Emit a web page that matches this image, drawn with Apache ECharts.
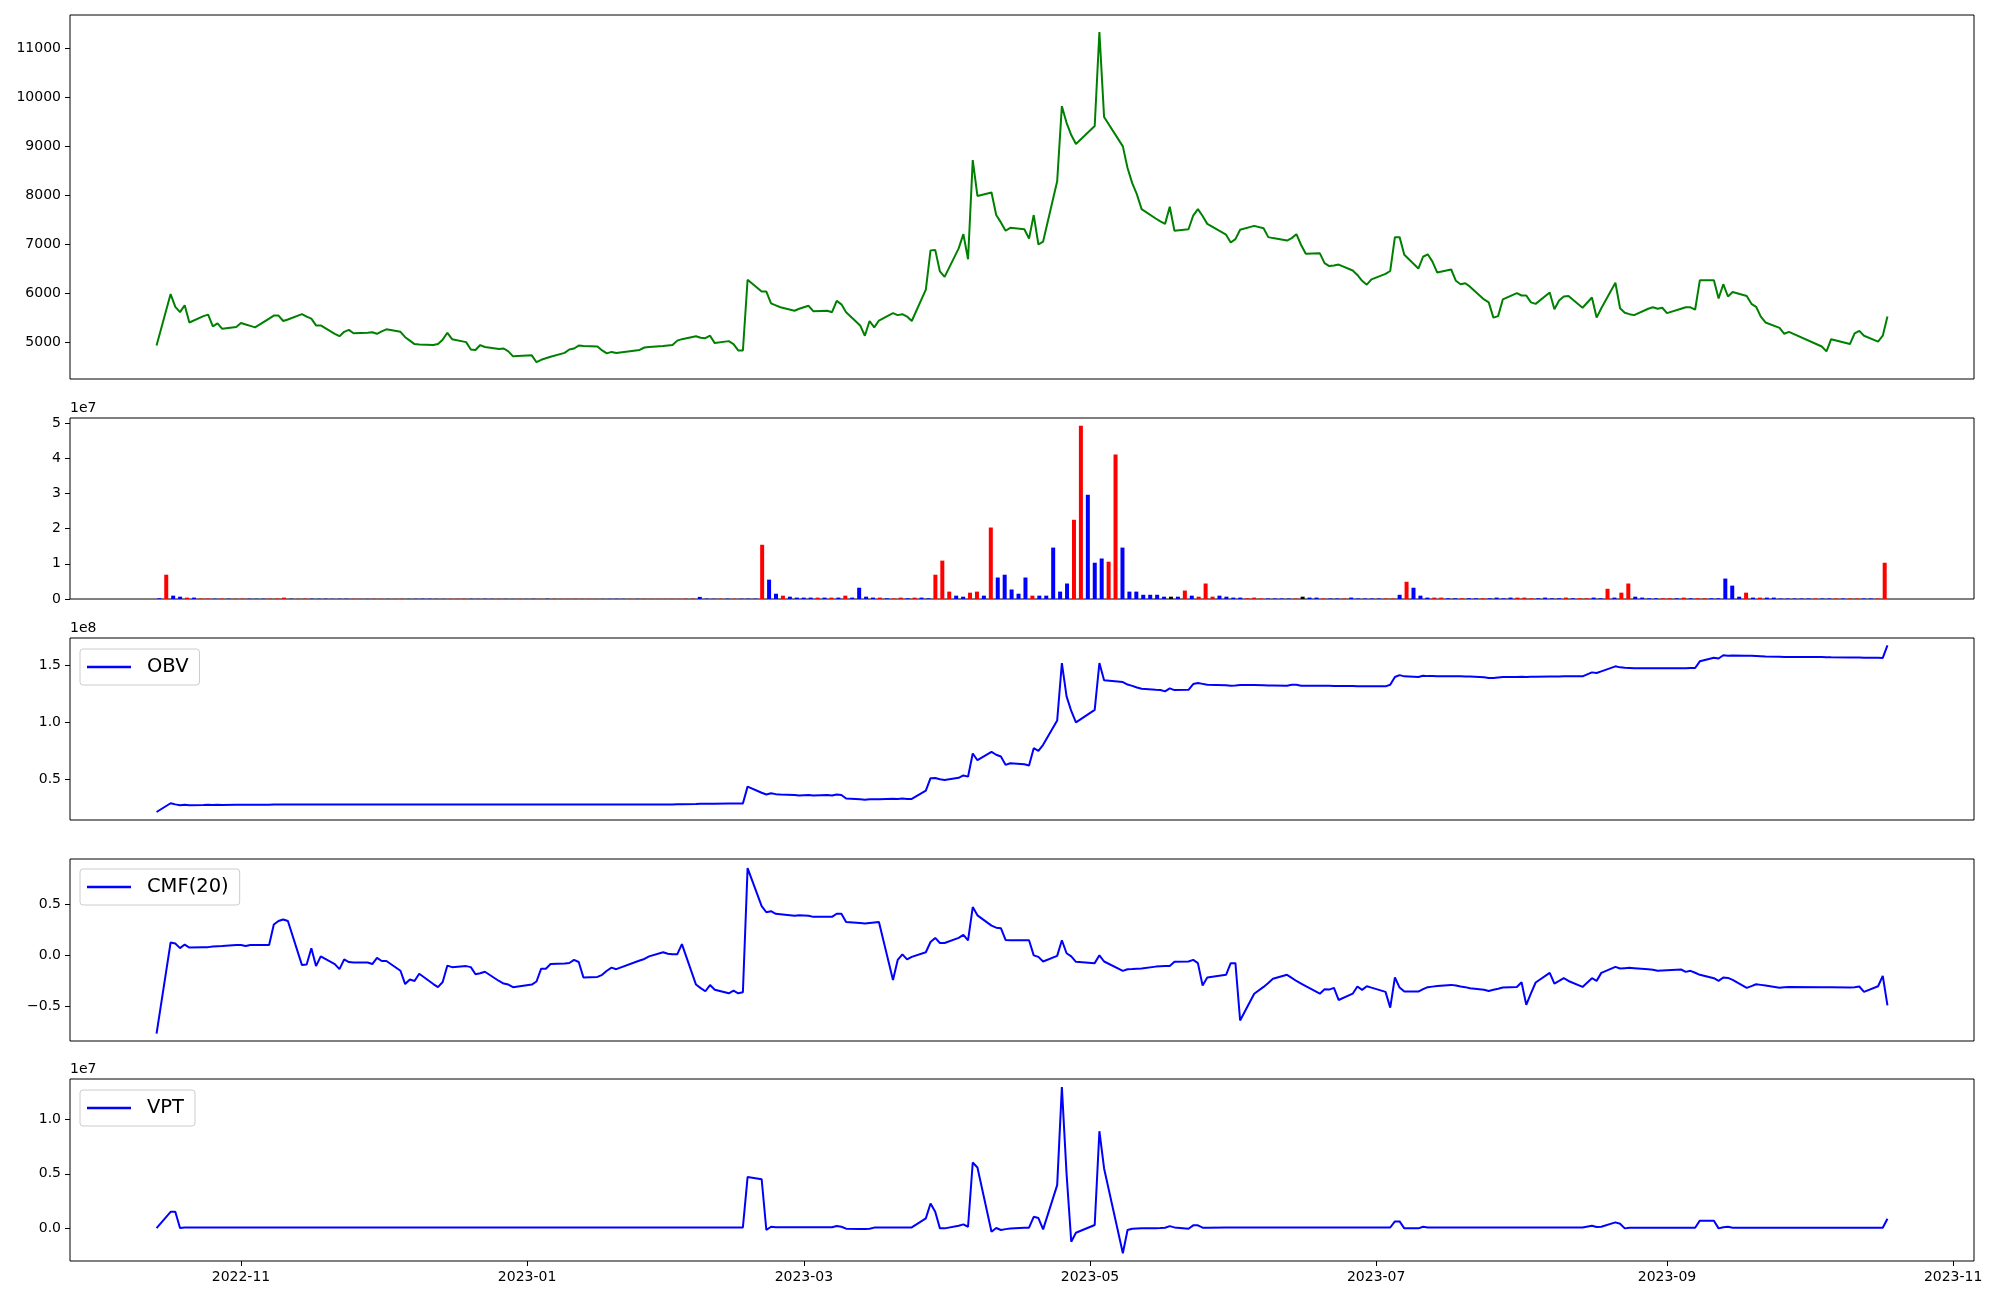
<!DOCTYPE html>
<html>
<head>
<meta charset="utf-8">
<script src="https://cdn.jsdelivr.net/npm/echarts@6/dist/echarts.min.js"></script>
<style>
html,body{margin:0;padding:0;background:#fff;}
#chart{width:2000px;height:1300px;}
</style>
</head>
<body>
<div id="chart"></div>
<script>
// ---------------- DATA ----------------
const dates = [
"2022-10-14","2022-10-17","2022-10-18","2022-10-19","2022-10-20","2022-10-21","2022-10-24","2022-10-25","2022-10-26","2022-10-27","2022-10-28","2022-10-31",
"2022-11-01","2022-11-02","2022-11-03","2022-11-04","2022-11-07","2022-11-08","2022-11-09","2022-11-10","2022-11-11","2022-11-14","2022-11-15","2022-11-16","2022-11-17","2022-11-18","2022-11-21","2022-11-22","2022-11-23","2022-11-24","2022-11-25","2022-11-28","2022-11-29","2022-11-30",
"2022-12-01","2022-12-02","2022-12-05","2022-12-06","2022-12-07","2022-12-08","2022-12-09","2022-12-12","2022-12-13","2022-12-14","2022-12-15","2022-12-16","2022-12-19","2022-12-20","2022-12-21","2022-12-22","2022-12-23","2022-12-26","2022-12-27","2022-12-28","2022-12-29",
"2023-01-02","2023-01-03","2023-01-04","2023-01-05","2023-01-06","2023-01-09","2023-01-10","2023-01-11","2023-01-12","2023-01-13","2023-01-16","2023-01-17","2023-01-18","2023-01-19","2023-01-20","2023-01-25","2023-01-26","2023-01-27","2023-01-30","2023-01-31",
"2023-02-01","2023-02-02","2023-02-03","2023-02-06","2023-02-07","2023-02-08","2023-02-09","2023-02-10","2023-02-13","2023-02-14","2023-02-15","2023-02-16","2023-02-17","2023-02-20","2023-02-21","2023-02-22","2023-02-23","2023-02-24","2023-02-27","2023-02-28",
"2023-03-02","2023-03-03","2023-03-06","2023-03-07","2023-03-08","2023-03-09","2023-03-10","2023-03-13","2023-03-14","2023-03-15","2023-03-16","2023-03-17","2023-03-20","2023-03-21","2023-03-22","2023-03-23","2023-03-24","2023-03-27","2023-03-28","2023-03-29","2023-03-30","2023-03-31",
"2023-04-03","2023-04-04","2023-04-05","2023-04-06","2023-04-07","2023-04-10","2023-04-11","2023-04-12","2023-04-13","2023-04-14","2023-04-17","2023-04-18","2023-04-19","2023-04-20","2023-04-21","2023-04-24","2023-04-25","2023-04-26","2023-04-27","2023-04-28",
"2023-05-02","2023-05-03","2023-05-04","2023-05-08","2023-05-09","2023-05-10","2023-05-11","2023-05-12","2023-05-15","2023-05-16","2023-05-17","2023-05-18","2023-05-19","2023-05-22","2023-05-23","2023-05-24","2023-05-25","2023-05-26","2023-05-30","2023-05-31",
"2023-06-01","2023-06-02","2023-06-05","2023-06-07","2023-06-08","2023-06-09","2023-06-12","2023-06-13","2023-06-14","2023-06-15","2023-06-16","2023-06-19","2023-06-20","2023-06-21","2023-06-22","2023-06-23","2023-06-26","2023-06-27","2023-06-28","2023-06-29","2023-06-30",
"2023-07-03","2023-07-04","2023-07-05","2023-07-06","2023-07-07","2023-07-10","2023-07-11","2023-07-12","2023-07-13","2023-07-14","2023-07-17","2023-07-18","2023-07-19","2023-07-20","2023-07-21","2023-07-24","2023-07-25","2023-07-26","2023-07-27","2023-07-28","2023-07-31",
"2023-08-01","2023-08-02","2023-08-03","2023-08-04","2023-08-07","2023-08-08","2023-08-09","2023-08-10","2023-08-11","2023-08-14","2023-08-16","2023-08-17","2023-08-18","2023-08-21","2023-08-22","2023-08-23","2023-08-24","2023-08-25","2023-08-28","2023-08-29","2023-08-30","2023-08-31",
"2023-09-01","2023-09-04","2023-09-05","2023-09-06","2023-09-07","2023-09-08","2023-09-11","2023-09-12","2023-09-13","2023-09-14","2023-09-15","2023-09-18","2023-09-19","2023-09-20","2023-09-21","2023-09-22","2023-09-25","2023-09-26","2023-09-27",
"2023-10-04","2023-10-05","2023-10-06","2023-10-10","2023-10-11","2023-10-12","2023-10-13","2023-10-16","2023-10-17","2023-10-18"
];

const price = [
4940,5990,5730,5620,5760,5410,5540,5570,5330,5390,
5280,5320,5400,5370,5340,5310,5490,5550,5550,5440,
5470,5580,5530,5490,5350,5350,5180,5130,5220,5260,
5190,5200,5210,5180,5230,5270,5220,5110,5040,4970,
4960,4950,4970,5060,5200,5070,5010,4860,4850,4950,
4910,4870,4880,4820,4720,4740,4600,4650,4680,4710,
4790,4860,4880,4940,4930,4920,4840,4780,4810,4790,
4850,4900,4910,4930,4940,4950,5040,5070,5130,5100,
5090,5140,4990,5030,4970,4840,4840,6280,6040,6040,
5800,5760,5720,5650,5690,5750,5640,5650,5620,5850,
5780,5620,5350,5140,5440,5310,5450,5600,5560,5580,
5530,5440,6080,6880,6890,6450,6340,6920,7210,6700,
8720,7990,8060,7600,7450,7280,7340,7310,7120,7600,
7000,7060,8290,9820,9480,9230,9050,9415,11330,9600,
9000,8560,8250,8020,7720,7530,7470,7420,7770,7280,
7310,7590,7720,7580,7420,7200,7040,7110,7300,7380,
7330,7150,7130,7080,7130,7210,6990,6810,6820,6620,
6560,6570,6590,6470,6380,6260,6180,6290,6400,6460,
7150,7150,6790,6510,6750,6800,6650,6430,6490,6260,
6190,6210,6140,5880,5820,5510,5540,5880,6010,5960,
5960,5820,5790,6020,5680,5860,5940,5950,5710,5920,
5510,5700,6220,5700,5610,5580,5560,5690,5720,5690,
5710,5600,5690,5720,5720,5670,6270,6270,5900,6190,
5940,6030,5950,5790,5730,5530,5410,5300,5180,5220,
4920,4820,5070,4970,5190,5240,5140,5020,5140,5530
];

// volume, in units of 1e7
const volumeE7 = [
0.02,0.69,0.095,0.066,0.04,0.04,0.015,0.012,0.01,0.012,
0.01,0.01,0.012,0.01,0.008,0.01,0.012,0.015,0.04,0.01,
0.008,0.012,0.01,0.008,0.01,0.006,0.008,0.01,0.008,0.006,
0.006,0.008,0.006,0.005,0.006,0.008,0.006,0.008,0.01,0.008,
0.006,0.005,0.006,0.008,0.01,0.008,0.006,0.008,0.006,0.008,
0.006,0.005,0.006,0.005,0.008,0.006,0.01,0.008,0.006,0.006,
0.008,0.006,0.005,0.006,0.005,0.006,0.008,0.006,0.005,0.006,
0.008,0.006,0.005,0.006,0.008,0.006,0.01,0.012,0.06,0.012,
0.008,0.01,0.012,0.008,0.01,0.012,0.01,1.54,0.55,0.15,
0.095,0.066,0.04,0.04,0.04,0.04,0.04,0.04,0.04,0.095,
0.04,0.32,0.066,0.04,0.04,0.02,0.015,0.04,0.02,0.04,
0.04,0.02,0.69,1.09,0.21,0.095,0.066,0.18,0.21,0.095,
2.03,0.61,0.69,0.27,0.15,0.61,0.095,0.095,0.095,1.46,
0.21,0.44,2.25,4.92,2.96,1.03,1.15,1.06,4.10,1.46,
0.21,0.21,0.12,0.12,0.12,0.066,0.066,0.066,0.24,0.095,
0.066,0.44,0.066,0.095,0.066,0.04,0.04,0.02,0.04,0.015,
0.015,0.015,0.015,0.015,0.015,0.066,0.04,0.04,0.015,0.015,
0.015,0.015,0.04,0.015,0.015,0.015,0.015,0.015,0.015,0.12,
0.49,0.32,0.095,0.04,0.04,0.04,0.02,0.02,0.02,0.02,
0.02,0.02,0.02,0.04,0.02,0.04,0.04,0.04,0.02,0.02,
0.04,0.02,0.02,0.04,0.02,0.02,0.02,0.04,0.02,0.29,
0.04,0.18,0.44,0.066,0.04,0.02,0.02,0.02,0.02,0.02,
0.04,0.02,0.02,0.02,0.02,0.02,0.58,0.38,0.066,0.18,
0.04,0.04,0.04,0.04,0.015,0.015,0.015,0.015,0.015,0.015,
0.015,0.015,0.015,0.015,0.015,0.015,0.015,0.015,0.015,1.03
];

// bar colour per day: r = red, b = blue, k = black
const volumeColorCodes = (
"brbbrbrrbr" + "brrbbbrrrb" + "rrbbbbbbrr" + "brrbrrbbbb" + "bbrrrbbbbr" +
"bbrbbrbrrr" + "rrrrbbbbrb" + "rrrrrrrrbb" + "brbrbbbrbb" + "rbbbbrbrbr" +
"bbbbrbrrbr" + "bbrrrbbrrb" + "rbbbbbrbbb" + "bbrrbbbrrb" + "bbbbbbkbrb" +
"rrrbbbbrrr" + "bbbbrkbbrb" + "brbbbbbrrb" + "rbbbrrbbrb" + "brbbbbrrrb" +
"bbbrbrrbbr" + "brrbbbbrrb" + "rbrrbbbbbr" + "brbbbbbbbr" + "bbrbrrbbrr"
).split("");

// OBV, in units of 1e8
const obvE8 = [
0.212,0.289,0.279,0.272,0.276,0.272,0.274,0.275,0.274,0.275,
0.274,0.275,0.275,0.276,0.276,0.275,0.276,0.277,0.278,0.278,
0.278,0.279,0.279,0.278,0.278,0.278,0.277,0.277,0.278,0.278,
0.278,0.278,0.278,0.278,0.278,0.278,0.278,0.277,0.277,0.277,
0.277,0.277,0.277,0.277,0.277,0.277,0.277,0.277,0.277,0.277,
0.277,0.277,0.277,0.277,0.277,0.277,0.277,0.277,0.277,0.277,
0.277,0.277,0.277,0.277,0.277,0.277,0.277,0.277,0.277,0.277,
0.277,0.278,0.278,0.278,0.279,0.279,0.280,0.281,0.283,0.284,
0.285,0.285,0.285,0.286,0.286,0.286,0.286,0.435,0.381,0.366,
0.376,0.369,0.365,0.361,0.357,0.361,0.357,0.361,0.357,0.366,
0.362,0.330,0.323,0.319,0.323,0.323,0.325,0.329,0.327,0.331,
0.327,0.327,0.400,0.509,0.510,0.500,0.494,0.512,0.533,0.523,
0.726,0.667,0.741,0.715,0.700,0.626,0.640,0.632,0.620,0.773,
0.750,0.802,1.016,1.520,1.228,1.100,0.999,1.110,1.521,1.369,
1.354,1.332,1.320,1.306,1.295,1.286,1.284,1.272,1.298,1.283,
1.286,1.336,1.345,1.338,1.330,1.326,1.322,1.324,1.327,1.327,
1.326,1.324,1.324,1.322,1.330,1.330,1.322,1.321,1.322,1.322,
1.321,1.320,1.320,1.319,1.318,1.318,1.317,1.317,1.316,1.330,
1.398,1.415,1.404,1.398,1.410,1.406,1.406,1.405,1.405,1.404,
1.404,1.403,1.402,1.396,1.390,1.389,1.394,1.398,1.398,1.400,
1.399,1.400,1.401,1.403,1.402,1.403,1.404,1.404,1.404,1.439,
1.433,1.448,1.492,1.483,1.480,1.478,1.476,1.475,1.476,1.475,
1.476,1.475,1.476,1.476,1.477,1.477,1.536,1.568,1.561,1.589,
1.586,1.588,1.586,1.584,1.582,1.580,1.578,1.576,1.575,1.574,
1.573,1.572,1.571,1.570,1.570,1.569,1.568,1.567,1.566,1.677
];

const cmf20 = [
-0.764,0.125,0.115,0.07,0.105,0.076,0.08,0.08,0.085,0.088,
0.09,0.10,0.10,0.09,0.10,0.10,0.10,0.30,0.335,0.35,
0.335,-0.095,-0.09,0.07,-0.105,-0.01,-0.085,-0.135,-0.04,-0.065,
-0.07,-0.07,-0.085,-0.025,-0.055,-0.055,-0.15,-0.28,-0.235,-0.25,
-0.18,-0.28,-0.31,-0.26,-0.10,-0.115,-0.105,-0.115,-0.185,-0.175,
-0.16,-0.25,-0.275,-0.285,-0.31,-0.285,-0.255,-0.13,-0.13,-0.085,
-0.08,-0.075,-0.045,-0.065,-0.215,-0.21,-0.19,-0.15,-0.12,-0.135,
-0.05,-0.035,-0.01,0.03,0.015,0.01,0.01,0.11,-0.285,-0.32,
-0.35,-0.29,-0.335,-0.37,-0.345,-0.37,-0.36,0.85,0.48,0.42,
0.43,0.405,0.40,0.385,0.39,0.385,0.375,0.375,0.375,0.405,
0.405,0.325,0.315,0.31,0.315,0.32,0.325,-0.24,-0.045,0.01,
-0.04,-0.015,0.03,0.13,0.17,0.12,0.12,0.17,0.2,0.145,
0.47,0.39,0.29,0.27,0.265,0.15,0.147,0.147,0.147,0.0,
-0.015,-0.06,-0.005,0.147,0.02,-0.01,-0.063,-0.076,0.0,-0.06,
-0.151,-0.135,-0.133,-0.13,-0.128,-0.11,-0.107,-0.105,-0.103,-0.063,
-0.06,-0.044,-0.076,-0.294,-0.216,-0.19,-0.076,-0.076,-0.635,-0.374,
-0.308,-0.27,-0.229,-0.19,-0.22,-0.25,-0.275,-0.30,-0.374,-0.33,
-0.334,-0.317,-0.435,-0.374,-0.304,-0.337,-0.301,-0.315,-0.356,-0.51,
-0.216,-0.314,-0.353,-0.353,-0.33,-0.31,-0.305,-0.30,-0.288,-0.295,
-0.304,-0.31,-0.32,-0.335,-0.347,-0.335,-0.325,-0.314,-0.308,-0.262,
-0.483,-0.37,-0.265,-0.171,-0.275,-0.25,-0.223,-0.25,-0.308,-0.223,
-0.249,-0.171,-0.112,-0.128,-0.125,-0.122,-0.125,-0.135,-0.14,-0.151,
-0.148,-0.145,-0.138,-0.161,-0.151,-0.17,-0.19,-0.223,-0.249,-0.216,
-0.22,-0.24,-0.317,-0.30,-0.282,-0.288,-0.295,-0.317,-0.31,-0.308,
-0.311,-0.312,-0.312,-0.314,-0.31,-0.304,-0.356,-0.301,-0.2,-0.487
];

// VPT, in units of 1e7
const vptE7 = [
0.0,0.15,0.15,0.0,0.005,0.004,0.005,0.005,0.004,0.005,
0.005,0.005,0.005,0.005,0.005,0.005,0.005,0.005,0.006,0.006,
0.006,0.006,0.006,0.006,0.006,0.006,0.006,0.006,0.006,0.006,
0.006,0.006,0.006,0.006,0.006,0.006,0.006,0.006,0.006,0.006,
0.006,0.006,0.006,0.006,0.006,0.006,0.006,0.006,0.006,0.006,
0.006,0.006,0.006,0.006,0.006,0.006,0.006,0.006,0.006,0.006,
0.006,0.006,0.006,0.006,0.006,0.006,0.006,0.006,0.006,0.006,
0.006,0.006,0.006,0.006,0.006,0.006,0.006,0.006,0.006,0.006,
0.006,0.006,0.006,0.006,0.006,0.006,0.006,0.47,0.45,-0.018,
0.012,0.008,0.008,0.008,0.008,0.008,0.008,0.008,0.008,0.018,
0.012,-0.006,-0.008,-0.008,-0.006,0.004,0.006,0.006,0.006,0.006,
0.006,0.006,0.089,0.227,0.15,-0.003,-0.003,0.021,0.034,0.012,
0.605,0.559,-0.034,0.0,-0.018,-0.01,-0.005,0.003,0.003,0.104,
0.092,-0.012,0.396,1.30,0.50,-0.126,-0.043,0.028,0.893,0.55,
-0.233,-0.018,-0.006,-0.004,-0.003,-0.002,0.0,0.003,0.018,0.006,
-0.006,0.025,0.025,0.003,0.003,0.004,0.004,0.004,0.004,0.005,
0.005,0.005,0.005,0.005,0.005,0.005,0.005,0.005,0.005,0.005,
0.005,0.005,0.005,0.005,0.005,0.005,0.005,0.005,0.005,0.005,
0.061,0.061,-0.003,-0.003,0.012,0.006,0.005,0.005,0.005,0.005,
0.005,0.005,0.005,0.005,0.005,0.005,0.005,0.005,0.005,0.005,
0.005,0.005,0.005,0.005,0.005,0.005,0.005,0.005,0.005,0.021,
0.01,0.012,0.052,0.04,-0.003,0.003,0.003,0.003,0.003,0.003,
0.003,0.003,0.003,0.003,0.003,0.003,0.068,0.068,-0.003,0.008,
0.012,0.003,0.003,0.003,0.003,0.003,0.003,0.003,0.003,0.003,
0.003,0.003,0.003,0.003,0.003,0.003,0.003,0.003,0.003,0.086
];

// tick values
const priceTicks = [5000, 6000, 7000, 8000, 9000, 10000, 11000];
const volumeTicks = [0, 1, 2, 3, 4, 5];
const obvTicks = [0.5, 1.0, 1.5];
const cmfTicks = [-0.5, 0.0, 0.5];
const vptTicks = [0.0, 0.5, 1.0];
const monthTicks = ["2022-11-01","2023-01-01","2023-03-01","2023-05-01","2023-07-01","2023-09-01","2023-11-01"];

// ---------------- CHART ----------------
function ts(s){ const p = s.split('-').map(Number); return Date.UTC(p[0], p[1]-1, p[2]); }
const times = dates.map(ts);
const N = dates.length;
const xPad = 0.05 * (times[N-1] - times[0]);
const xMin = times[0] - xPad, xMax = times[N-1] + xPad;
const idxPad = 0.05 * (N - 0.2);

const FONT = 'DejaVu Sans';
const colorMap = { r: '#ff0000', b: '#0000ff', k: '#000000' };

const L = 70, W = 1904;
const gridDefs = [
  { top: 15, height: 364 },
  { top: 418, height: 181 },
  { top: 638, height: 182 },
  { top: 859, height: 182 },
  { top: 1079, height: 182 }
];
const grids = gridDefs.map(g => ({
  left: L, width: W, top: g.top, height: g.height,
  show: true, borderColor: '#000', borderWidth: 1, backgroundColor: 'transparent', containLabel: false
}));

function hiddenX(gi, min, max){
  return { type: 'value', gridIndex: gi, min: min, max: max, scale: true, position: 'bottom',
    axisLine: {show: false, onZero: false}, axisTick: {show: false}, axisLabel: {show: false}, splitLine: {show: false} };
}
const monthTs = monthTicks.map(ts);
const xAxes = [
  hiddenX(0, xMin, xMax),
  hiddenX(1, -0.4 - idxPad, N - 0.6 + idxPad),
  hiddenX(2, xMin, xMax),
  hiddenX(3, xMin, xMax),
  { type: 'value', gridIndex: 4, min: xMin, max: xMax, scale: true, position: 'bottom',
    axisLine: {show: false, onZero: false}, splitLine: {show: false},
    axisTick: {show: true, length: 5, inside: false, lineStyle: {color: '#000', width: 1}, customValues: monthTs},
    axisLabel: {show: true, color: '#000', fontSize: 14, fontFamily: FONT, margin: 9, customValues: monthTs,
      hideOverlap: false,
      formatter: function(v){ const d = new Date(v); return d.getUTCFullYear() + '-' + String(d.getUTCMonth()+1).padStart(2,'0'); }}
  }
];

function yAx(gi, min, max, ticks, fmt, name){
  const a = { type: 'value', gridIndex: gi, min: min, max: max, scale: true, position: 'left',
    axisLine: {show: false, onZero: false}, splitLine: {show: false},
    axisTick: {show: true, length: 5, inside: false, lineStyle: {color: '#000', width: 1}, customValues: ticks},
    axisLabel: {show: true, color: '#000', fontSize: 14, fontFamily: FONT, margin: 9, customValues: ticks, formatter: fmt}
  };
  if (name) {
    a.name = name; a.nameLocation = 'end'; a.nameGap = 3;
    a.nameTextStyle = {color: '#000', fontSize: 14, fontFamily: FONT, align: 'left', verticalAlign: 'bottom'};
  }
  return a;
}
const fmt1 = v => (Math.abs(v) < 1e-9 ? '0.0' : v.toFixed(1).replace('-', '\u2212'));
const yAxes = [
  yAx(0, 4258, 11678, priceTicks, v => String(Math.round(v))),
  yAx(1, 0, 5.14, volumeTicks, v => String(Math.round(v)), '1e7'),
  yAx(2, 0.1417, 1.741, obvTicks, fmt1, '1e8'),
  yAx(3, -0.835, 0.939, cmfTicks, fmt1),
  yAx(4, -0.304, 1.375, vptTicks, fmt1, '1e7')
];

function lineSeries(name, vals, gi, color){
  return { name: name, type: 'line', xAxisIndex: gi, yAxisIndex: gi,
    data: vals.map((v, i) => [times[i], v]),
    showSymbol: false, symbol: 'none', animation: false, silent: true,
    lineStyle: {color: color, width: 2}, itemStyle: {color: color} };
}

const legendCommon = {
  orient: 'horizontal', icon: 'rect', itemWidth: 44, itemHeight: 2.5,
  padding: [8, 11, 8, 7], backgroundColor: '#ffffff', borderColor: '#cccccc', borderWidth: 1, borderRadius: 3,
  selectedMode: false,
  textStyle: {fontFamily: FONT, fontSize: 19.5, color: '#000', padding: [0, 0, 0, 11]}
};

const option = {
  animation: false,
  backgroundColor: '#ffffff',
  grid: grids,
  xAxis: xAxes,
  yAxis: yAxes,
  legend: [
    Object.assign({}, legendCommon, {data: ['OBV'], left: 80, top: 649}),
    Object.assign({}, legendCommon, {data: ['CMF(20)'], left: 80, top: 869}),
    Object.assign({}, legendCommon, {data: ['VPT'], left: 80, top: 1090})
  ],
  series: [
    lineSeries('Price', price, 0, '#008000'),
    { name: 'Volume', type: 'bar', xAxisIndex: 1, yAxisIndex: 1, barWidth: 4, animation: false, silent: true,
      data: volumeE7.map((v, i) => ({ value: [i, v], itemStyle: {color: colorMap[volumeColorCodes[i]]} })) },
    lineSeries('OBV', obvE8, 2, '#0000ff'),
    lineSeries('CMF(20)', cmf20, 3, '#0000ff'),
    lineSeries('VPT', vptE7, 4, '#0000ff')
  ]
};

const chart = echarts.init(document.getElementById('chart'), null, {renderer: 'canvas', width: 2000, height: 1300});
chart.setOption(option);
</script>
</body>
</html>
